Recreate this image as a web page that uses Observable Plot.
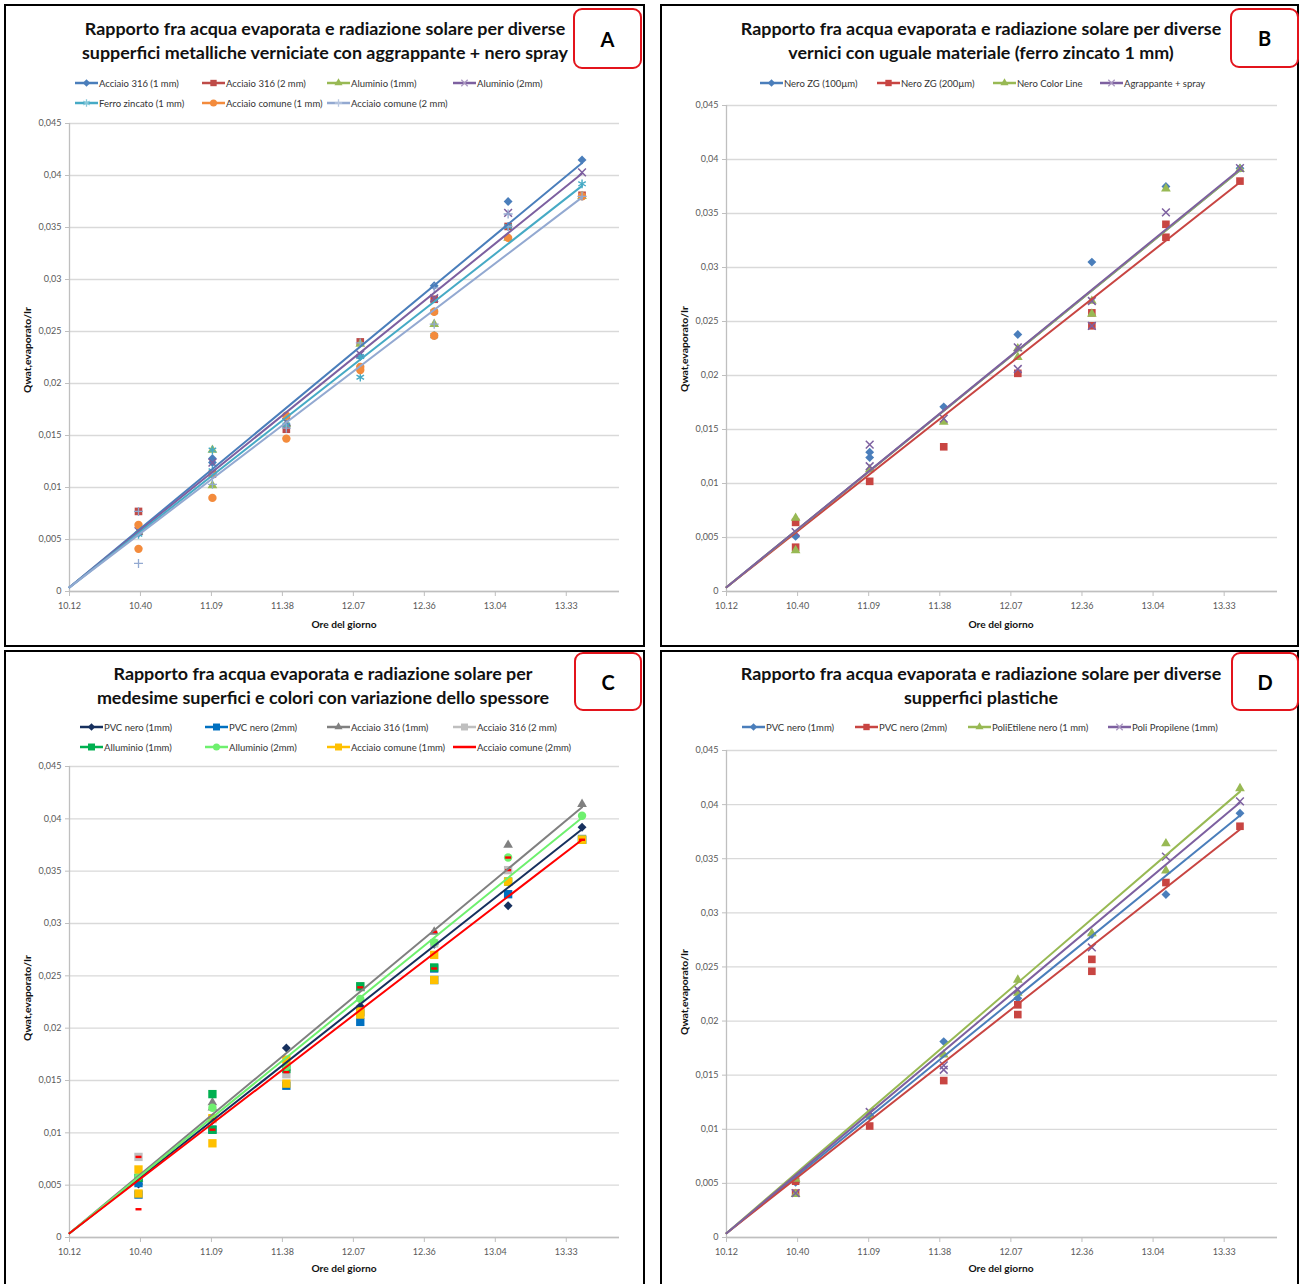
<!DOCTYPE html>
<html><head><meta charset="utf-8">
<script src="https://cdn.jsdelivr.net/npm/d3@7"></script>
<script src="https://cdn.jsdelivr.net/npm/@observablehq/plot@0.6"></script>
<style>
body{margin:0;background:#fff;}
#root{position:relative;width:1299px;height:1284px;overflow:hidden;background:#fff;font-family:Lato,"Open Sans",sans-serif;}
.box{position:absolute;border:2px solid #000;box-sizing:border-box;pointer-events:none;}
.title{position:absolute;font-weight:700;font-size:17.9px;color:#111;white-space:nowrap;transform:translate(-50%,-50%);line-height:1;}
.letter{position:absolute;border:2px solid #e3141c;border-radius:9px;box-sizing:border-box;background:#fff;display:flex;align-items:center;justify-content:center;font-weight:700;font-size:20px;color:#000;}
.leg{position:absolute;display:flex;align-items:center;white-space:nowrap;font-size:9.5px;color:#333;transform:translateY(-50%);}
.leg svg{display:block;margin-right:1px;}
.ylab{position:absolute;font-weight:700;font-size:10.3px;color:#111;white-space:nowrap;transform:translate(-50%,-50%) rotate(-90deg);}
.xlab{position:absolute;font-weight:700;font-size:10.2px;color:#111;white-space:nowrap;transform:translate(-50%,-50%);}
.plot{position:absolute;}
</style></head><body><div id="root"></div>
<script>
// ---------- shared axis data ----------
const axisStartMin = 612;       // 10:12
const axisEndMin = 835.2;       // 13:55 (0,58 giorni)
const majorUnitMin = 28.8;      // 0,02 giorni
const xTickLabels = ["10.12","10.40","11.09","11.38","12.07","12.36","13.04","13.33"];
const yTickValues = [0,0.005,0.01,0.015,0.02,0.025,0.03,0.035,0.04,0.045];
const sampleTimes = [640, 670, 700, 730, 760, 790, 820]; // 10:40 ... 13:40
const trendStartValue = 0.0004;

// ---------- Panel A ----------
const aNames = ["Acciaio 316 (1 mm)","Acciaio 316 (2 mm)","Aluminio (1mm)","Aluminio (2mm)","Ferro zincato (1 mm)","Acciaio comune (1 mm)","Acciaio comune (2 mm)"];
const aValues = [
  [0.0056,0.0128,0.0160,0.0226,0.0294,0.0375,0.0415],
  [0.0077,0.0113,0.0156,0.0240,0.0281,0.0351,0.0381],
  [0.0057,0.0136,0.0161,0.0238,0.0257,0.0340,0.0380],
  [0.0058,0.0124,0.0163,0.0228,0.0282,0.0364,0.0403],
  [0.0055,0.0136,0.0160,0.0206,0.0269,0.0351,0.0392],
  [0.0064,0.0113,0.0169,0.0216,0.0269,0.0340,0.0380],
  [0.0027,0.0103,0.0157,0.0239,0.0257,0.0351,0.0380]
];
const aValuesExtra = [
  [null,0.0124,null,null,null,null,null],
  [null,null,null,null,null,null,null],
  [null,0.0102,null,null,null,null,null],
  [null,null,null,null,null,null,null],
  [null,0.0116,null,0.0226,0.0246,null,null],
  [0.0041,0.0090,0.0147,0.0213,0.0246,null,null],
  [0.0077,0.0113,null,null,0.0292,0.0363,null]
];
const aTrendEnd = [0.0412,null,null,0.0402,0.0390,null,0.0379];

// ---------- Panel B ----------
const bNames = ["Nero ZG (100µm)","Nero ZG (200µm)","Nero Color Line","Agrappante + spray"];
const bValues = [
  [0.0051,0.0129,0.0171,0.0238,0.0305,0.0375,0.0392],
  [0.0064,0.0102,0.0134,0.0202,0.0258,0.0340,0.0380],
  [0.0068,0.0113,0.0157,0.0217,0.0269,0.0373,0.0391],
  [0.0055,0.0136,0.0160,0.0226,0.0269,0.0351,0.0392]
];
const bValuesExtra = [
  [null,0.0124,null,null,null,null,null],
  [0.0041,null,null,null,0.0246,0.0328,null],
  [0.0038,null,null,0.0225,0.0257,null,null],
  [null,0.0116,null,0.0206,0.0246,null,null]
];
const bTrendEnd = [0.0390,0.0379,0.0390,0.0391];

// ---------- Panel C ----------
const cNames = ["PVC nero (1mm)","PVC nero (2mm)","Acciaio 316 (1mm)","Acciaio 316 (2 mm)","Alluminio (1mm)","Alluminio (2mm)","Acciaio comune (1mm)","Acciaio comune (2mm)"];
const cValues = [
  [0.0051,0.0112,0.0181,0.0221,0.0280,0.0317,0.0392],
  [0.0052,0.0103,0.0145,0.0206,0.0257,0.0328,0.0380],
  [0.0056,0.0129,0.0162,0.0238,0.0292,0.0375,0.0414],
  [0.0077,0.0113,0.0156,0.0240,0.0281,0.0351,0.0381],
  [0.0057,0.0137,0.0161,0.0240,0.0258,0.0340,0.0380],
  [0.0058,0.0124,0.0163,0.0228,0.0282,0.0363,0.0403],
  [0.0065,0.0114,0.0170,0.0216,0.0270,0.0340,0.0380],
  [0.0027,0.0103,0.0158,0.0239,0.0257,0.0351,0.0380]
];
const cValuesExtra = [
  [null,null,null,null,null,null,null],
  [0.0041,null,null,0.0215,0.0246,null,null],
  [null,0.0124,null,null,null,null,null],
  [null,null,null,null,null,null,null],
  [null,0.0103,null,null,null,null,null],
  [null,null,null,null,null,null,null],
  [0.0042,0.0090,0.0147,0.0213,0.0246,null,null],
  [0.0077,0.0113,null,null,0.0292,0.0363,null]
];
const cTrendEnd = [0.0390,null,0.0411,null,null,0.0401,null,0.0380];

// ---------- Panel D ----------
const dNames = ["PVC nero (1mm)","PVC nero (2mm)","PoliEtilene nero (1 mm)","Poli Propilene (1mm)"];
const dValues = [
  [0.0051,0.0112,0.0181,0.0221,0.0280,0.0317,0.0392],
  [0.0052,0.0103,0.0145,0.0206,0.0257,0.0328,0.0380],
  [0.0054,0.0113,0.0169,0.0238,0.0281,0.0364,0.0415],
  [0.0041,0.0116,0.0159,0.0229,0.0268,0.0352,0.0403]
];
const dValuesExtra = [
  [null,null,null,null,null,null,null],
  [0.0041,null,null,0.0215,0.0246,null,null],
  [0.0040,null,null,0.0226,null,0.0339,null],
  [null,null,0.0155,null,null,null,null]
];
const dTrendEnd = [0.0390,0.0377,0.0412,0.0402];

// ---------- styles (kept apart from data) ----------
const aColors = ["#4a7ebb","#be4b48","#98b954","#7d60a0","#46aac5","#f38b3c","#93a9d1"];
const bColors = ["#4a7ebb","#c84542","#98b954","#7d60a0"];
const cColors = ["#17305e","#0070c0","#808080","#bfbfbf","#00b050","#6ef06e","#ffc000","#ff0000"];
const dColors = ["#4a7ebb","#c84542","#98b954","#7d60a0"];
const aSymbols = ["diamond","square","triangle","times","asterisk","circle","plus"];
const bSymbols = ["diamond","square","triangle","times"];
const cSymbols = ["diamond","bigsquare","triangle","bigsquare","bigsquare","circle","bigsquare","dash"];
const dSymbols = ["diamond","square","triangle","times"];

const dashSymbol = {draw(ctx){ ctx.moveTo(-3,-1.2); ctx.lineTo(3,-1.2); ctx.lineTo(3,1.2); ctx.lineTo(-3,1.2); ctx.closePath(); }};
const symbolStyle = {
  diamond:  {sym:"diamond2", d3sym:d3.symbolDiamond2, r:4.0, filled:true},
  square:   {sym:"square", d3sym:d3.symbolSquare, r:4.3, filled:true},
  bigsquare:{sym:"square", d3sym:d3.symbolSquare, r:4.7, filled:true},
  triangle: {sym:"triangle", d3sym:d3.symbolTriangle, r:3.6, filled:true},
  times:    {sym:"times", d3sym:d3.symbolTimes, r:3.6, filled:false, sw:1.5},
  asterisk: {sym:"asterisk", d3sym:d3.symbolAsterisk, r:4.1, filled:false, sw:1.4},
  circle:   {sym:"circle", d3sym:d3.symbolCircle, r:4.2, filled:true},
  plus:     {sym:"plus", d3sym:d3.symbolPlus, r:3.0, filled:false, sw:1.3},
  dash:     {sym:dashSymbol, d3sym:dashSymbol, r:3, filled:true}
};

const fmtY = d => d === 0 ? "0" : String(Math.round(d*1000)/1000).replace(".", ",");
const xTickValues = xTickLabels.map((_, k) => axisStartMin + k*majorUnitMin);
const fmtX = d => xTickLabels[Math.round((d - axisStartMin)/majorUnitMin)];

const root = document.getElementById("root");
function el(cls, css, html) {
  const e = document.createElement("div");
  if (cls) e.className = cls;
  Object.assign(e.style, css);
  if (html != null) e.textContent = html;
  root.appendChild(e);
  return e;
}

function buildPlot(p, L) {
  const rows = [];
  p.names.forEach((name, s) => {
    sampleTimes.forEach((t, i) => {
      [p.values[s][i], p.extra[s][i]].forEach(v => { if (v != null) rows.push({series:s, t, v}); });
    });
  });
  const last = sampleTimes[sampleTimes.length - 1];
  const trendRows = [];
  p.trendEnd.forEach((end, s) => {
    if (end != null) trendRows.push({series:s, t:axisStartMin, v:trendStartValue}, {series:s, t:last, v:end});
  });
  const marks = [
    Plot.gridY(yTickValues, {stroke:"#d9d9d9", strokeOpacity:1, strokeWidth:1.3}),
    Plot.ruleY([0], {stroke:"#bfbfbf", strokeWidth:1.3}),
    Plot.ruleX([axisStartMin], {stroke:"#bfbfbf", strokeWidth:1.3}),
    Plot.axisY(yTickValues, {tickSize:4, tickPadding:4, tickFormat:fmtY, fontSize:9, label:null, stroke:"#bfbfbf", fill:"#595959"}),
    Plot.axisX(xTickValues, {tickSize:5, tickPadding:6, tickFormat:fmtX, fontSize:9, label:null, stroke:"#bfbfbf", fill:"#595959"})
  ];
  p.names.forEach((name, s) => {
    const st = symbolStyle[p.symbols[s]];
    const col = p.colors[s];
    marks.push(Plot.dot(rows.filter(d => d.series === s), {
      x:"t", y:"v", symbol:st.sym, r:st.r,
      fill: st.filled ? col : "none",
      stroke: st.filled ? "none" : col,
      strokeWidth: st.sw || 1
    }));
  });
  p.names.forEach((name, s) => {
    const seg = trendRows.filter(d => d.series === s);
    if (seg.length) marks.push(Plot.line(seg, {x:"t", y:"v", stroke:p.colors[s], strokeWidth:2}));
  });
  const svg = Plot.plot({
    width:L.w, height:L.h,
    marginLeft:L.ml, marginRight:L.mr, marginTop:L.mt, marginBottom:L.mb,
    x:{domain:[axisStartMin, axisEndMin]},
    y:{domain:[0, 0.045]},
    style:{fontFamily:"Lato, 'Open Sans', sans-serif", background:"transparent", color:"#595959", overflow:"visible"},
    marks
  });
  svg.classList.add("plot");
  svg.style.left = L.left + "px";
  svg.style.top = L.top + "px";
  root.appendChild(svg);
}

function legendItem(x, y, name, color, symKey) {
  const st = symbolStyle[symKey];
  const item = el("leg", {left:x+"px", top:y+"px"});
  const ns = "http://www.w3.org/2000/svg";
  const svg = document.createElementNS(ns, "svg");
  svg.setAttribute("width", 23); svg.setAttribute("height", 12);
  const line = document.createElementNS(ns, "line");
  line.setAttribute("x1", 0); line.setAttribute("x2", 23); line.setAttribute("y1", 6); line.setAttribute("y2", 6);
  line.setAttribute("stroke", color); line.setAttribute("stroke-width", 2.5);
  svg.appendChild(line);
  if (symKey !== "dash") {
    const path = document.createElementNS(ns, "path");
    path.setAttribute("d", d3.symbol(st.d3sym, st.r*st.r*Math.PI*0.7)());
    path.setAttribute("transform", "translate(11.5,6)");
    if (st.filled) { path.setAttribute("fill", color); }
    else { path.setAttribute("fill", "none"); path.setAttribute("stroke", d3.interpolateRgb(color, "#fff")(0.35)); path.setAttribute("stroke-width", 1.3); }
    svg.appendChild(path);
  }
  item.appendChild(svg);
  const span = document.createElement("span");
  span.textContent = name;
  item.appendChild(span);
}

function panel(p, L) {
  buildPlot(p, L);
  el("box", {left:L.bx+"px", top:L.by+"px", width:L.bw+"px", height:L.bh+"px"});
  L.titles.forEach((t, i) => el("title", {left:L.tx+"px", top:L.ty[i]+"px"}, t));
  p.names.forEach((n, s) => legendItem(L.leg[s][0], L.leg[s][1], n, p.colors[s], p.symbols[s]));
  el("ylab", {left:L.ylx+"px", top:L.yly+"px"}, "Qwat,evaporato/Ir");
  el("xlab", {left:L.xlx+"px", top:L.xly+"px"}, "Ore del giorno");
  el("letter", {left:L.lx+"px", top:L.ly+"px", width:L.lw+"px", height:L.lh+"px"}, L.letter);
}

panel({names:aNames, values:aValues, extra:aValuesExtra, trendEnd:aTrendEnd, colors:aColors, symbols:aSymbols}, {
  left:6, top:6, w:637, h:639, ml:63, mr:24, mt:117, mb:54,
  bx:4, by:4, bw:641, bh:643,
  titles:["Rapporto fra acqua evaporata e radiazione solare per diverse","supperfici metalliche verniciate con aggrappante + nero spray"],
  tx:325, ty:[29,53],
  leg:[[75,83],[202,83],[327,83],[453,83],[75,103],[202,103],[327,103]],
  ylx:27, yly:350, xlx:344, xly:624,
  letter:"A", lx:573, ly:8, lw:69, lh:61
});
panel({names:bNames, values:bValues, extra:bValuesExtra, trendEnd:bTrendEnd, colors:bColors, symbols:bSymbols}, {
  left:662, top:6, w:635, h:639, ml:64, mr:20, mt:99, mb:54,
  bx:660, by:4, bw:639, bh:643,
  titles:["Rapporto fra acqua evaporata e radiazione solare per diverse","vernici con uguale materiale (ferro zincato 1 mm)"],
  tx:981, ty:[29,53],
  leg:[[760,83],[877,83],[993,83],[1100,83]],
  ylx:684, yly:349, xlx:1001, xly:624,
  letter:"B", lx:1230, ly:8, lw:69, lh:60
});
panel({names:cNames, values:cValues, extra:cValuesExtra, trendEnd:cTrendEnd, colors:cColors, symbols:cSymbols}, {
  left:6, top:652, w:637, h:632, ml:63, mr:24, mt:114, mb:47,
  bx:4, by:650, bw:641, bh:640,
  titles:["Rapporto fra acqua evaporata e radiazione solare per","medesime superfici e colori con variazione dello spessore"],
  tx:323, ty:[674,698],
  leg:[[80,727],[205,727],[327,727],[453,727],[80,747],[205,747],[327,747],[453,747]],
  ylx:27, yly:998, xlx:344, xly:1268,
  letter:"C", lx:574, ly:652, lw:68, lh:59
});
panel({names:dNames, values:dValues, extra:dValuesExtra, trendEnd:dTrendEnd, colors:dColors, symbols:dSymbols}, {
  left:662, top:652, w:635, h:632, ml:64, mr:20, mt:98, mb:47,
  bx:660, by:650, bw:639, bh:640,
  titles:["Rapporto fra acqua evaporata e radiazione solare per diverse","supperfici plastiche"],
  tx:981, ty:[674,698],
  leg:[[742,727],[855,727],[968,727],[1108,727]],
  ylx:684, yly:992, xlx:1001, xly:1268,
  letter:"D", lx:1231, ly:652, lw:68, lh:59
});
</script></body></html>
